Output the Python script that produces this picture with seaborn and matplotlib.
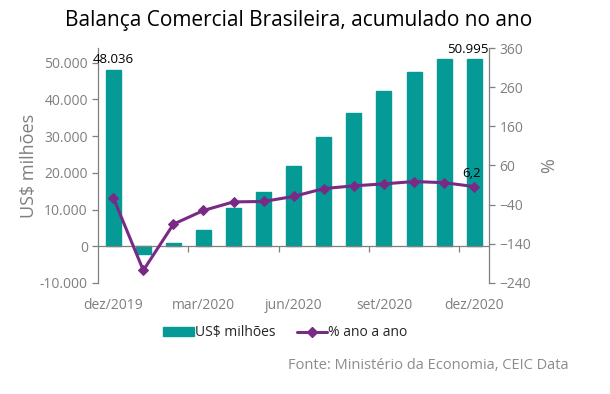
import numpy as np
import pandas as pd
import matplotlib
matplotlib.use("Agg")
import matplotlib.pyplot as plt
import matplotlib.ticker as mticker
from matplotlib.lines import Line2D
from matplotlib.patches import Patch
import seaborn as sns

# ----------------------------------------------------------
# DATA
# ----------------------------------------------------------
months = ["dez/2019", "jan/2020", "fev/2020", "mar/2020", "abr/2020", "mai/2020",
          "jun/2020", "jul/2020", "ago/2020", "set/2020", "out/2020", "nov/2020",
          "dez/2020"]
saldo_usd = [48036, -2000, 800, 4470, 10460, 14820, 21900, 29800, 36430,
             42340, 47520, 51000, 50995]
var_pct = [-22, -208, -90, -55, -33, -32, -19, 1, 8, 13, 19, 16, 6.2]
tick_months = ["dez/2019", "mar/2020", "jun/2020", "set/2020", "dez/2020"]

TEAL = "#069A96"
PURPLE = "#792A84"
GRAY = "#7F7F7F"

df = pd.DataFrame({"mes": months, "saldo": saldo_usd, "pct": var_pct})
df["pos"] = np.arange(len(df))

sns.set_style("white")
plt.rcParams["font.family"] = ["Open Sans", "DejaVu Sans"]

fig = plt.figure(figsize=(6.1, 3.94), dpi=100)
ax = fig.add_axes([0.161, 0.282, 0.641, 0.596])

sns.barplot(data=df, x="mes", y="saldo", color=TEAL, width=0.5,
            saturation=1, edgecolor=TEAL, ax=ax)
ax.set_xlim(-0.5, len(months) - 0.5)
ax.set_ylim(-10000, 54000)
ax.set_yticks(np.arange(-10000, 50001, 10000))
ax.yaxis.set_major_formatter(mticker.FuncFormatter(
    lambda v, p: f"{int(v):,}".replace(",", ".")))

# category axis sits on the zero line
ax.spines["bottom"].set_position(("data", 0))
ax.spines["bottom"].set_color(GRAY)
ax.spines["bottom"].set_linewidth(0.9)

# x labels every 3 months, ticks between categories
ax.set_xticks([months.index(m) for m in tick_months])
ax.set_xticklabels(tick_months)
ax.set_xticks([2.5, 5.5, 8.5, 11.5], minor=True)
ax.tick_params(axis="x", which="major", length=0, pad=37, labelsize=10,
               labelcolor=GRAY)
ax.tick_params(axis="x", which="minor", length=4, color=GRAY, width=0.9,
               direction="out", bottom=True)
ax.tick_params(axis="y", length=4, color=GRAY, width=0.9, labelsize=10,
               labelcolor=GRAY, direction="out", left=True)
ax.set_xlabel("")
ax.set_ylabel("US$ milhões", fontsize=13, color=GRAY, labelpad=1)

for s in ["top", "right"]:
    ax.spines[s].set_visible(False)
ax.spines["left"].set_color(GRAY)
ax.spines["left"].set_linewidth(0.9)

# percent line on secondary axis
ax2 = ax.twinx()
sns.lineplot(data=df, x="pos", y="pct", color=PURPLE, lw=2.2, marker="D",
             markersize=5, markeredgecolor=PURPLE, ax=ax2)
ax2.set_ylim(-240, 360)
ax2.set_yticks(np.arange(-240, 361, 100))
ax2.tick_params(axis="y", length=4, color=GRAY, width=0.9, labelsize=10,
                labelcolor=GRAY, direction="out", right=True)
ax2.set_ylabel("%", fontsize=13, color=GRAY, labelpad=6)
for s in ["top", "left", "bottom"]:
    ax2.spines[s].set_visible(False)
ax2.spines["right"].set_color(GRAY)
ax2.spines["right"].set_linewidth(0.9)
ax2.set_xlim(-0.5, len(months) - 0.5)

# data labels
ax.text(0, saldo_usd[0] + 1000, "48.036", ha="center", va="bottom",
        fontsize=9.5, color="black")
ax.text(len(months) - 1.2, saldo_usd[-1] + 800, "50.995", ha="center",
        va="bottom", fontsize=9.5, color="black")
ax2.text(len(months) - 1.1, var_pct[-1] + 16, "6,2", ha="center", va="bottom",
         fontsize=9.5, color="black")

fig.suptitle("Balança Comercial Brasileira, acumulado no ano", x=0.49, y=0.975,
             fontsize=15, color="black")

handles = [Patch(facecolor=TEAL, edgecolor=TEAL),
           Line2D([], [], color=PURPLE, lw=2.2, marker="D", markersize=5)]
fig.legend(handles, ["US$ milhões", "% ano a ano"], loc="center",
           bbox_to_anchor=(0.468, 0.155), ncol=2, frameon=False, fontsize=10,
           handlelength=2.2, handletextpad=0.1, columnspacing=1.5)

fig.text(0.932, 0.072, "Fonte: Ministério da Economia, CEIC Data", ha="right",
         va="center", fontsize=10.5, color="#8C8C8C")

fig.savefig("out.png", dpi=100)
